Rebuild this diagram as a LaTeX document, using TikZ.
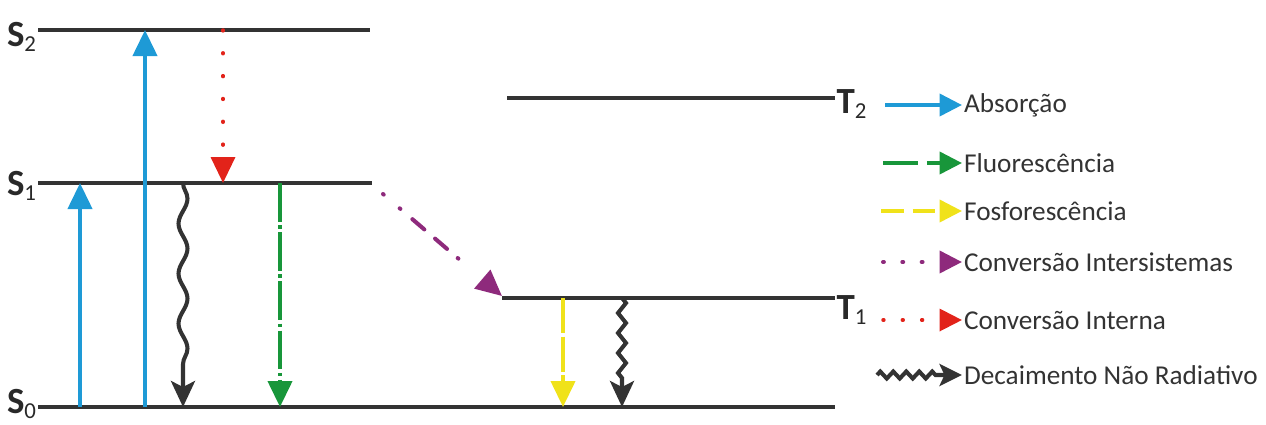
\documentclass[tikz,border=0pt]{standalone}
\usepackage{fontspec}
\setmainfont{Carlito}
\usetikzlibrary{arrows.meta, positioning, decorations.pathmorphing}

\definecolor{absblue}{HTML}{1E9AD6}
\definecolor{flugreen}{HTML}{18963A}
\definecolor{fosyellow}{HTML}{F0E21A}
\definecolor{iscpurple}{HTML}{8E2A7C}
\definecolor{icred}{HTML}{E2231A}
\definecolor{nrblack}{HTML}{333333}

\newcommand{\lvsub}[1]{\textsubscript{\mdseries\fontsize{13}{14}\selectfont #1}}

\begin{document}
\begin{tikzpicture}[x=0.02cm, y=-0.02cm,
    every node/.style={inner sep=1pt},
    level/.style={line width=2.1pt, nrblack},
    statelbl/.style={font=\fontsize{21}{23}\selectfont\bfseries, text=nrblack!80!black},
    legtext/.style={font=\fontsize{15.5}{17}\selectfont, text=nrblack, anchor=west},
    tip/.style={-{Triangle[length=0.52cm,width=0.48cm]}},
    ltip/.style={-{Triangle[length=0.45cm,width=0.44cm]}},
    absorb/.style={line width=2.3pt, absblue},
    fluor/.style={line width=2.3pt, flugreen, dash pattern=on 22pt off 2pt on 2pt off 2pt},
    phosph/.style={line width=2.3pt, fosyellow, dash pattern=on 20pt off 2pt},
    isc/.style={line width=2.3pt, iscpurple, line cap=round},
    intconv/.style={line width=2pt, icred, line cap=round, dash pattern=on 0.5pt off 12.5pt},
    nonrad/.style={line width=2.3pt, nrblack, decorate}]

  \useasboundingbox (0,0) rectangle (1266,424);

  % energy levels
  \coordinate (S2a) at (38,30);  \coordinate (S2b) at (370,30);
  \coordinate (S1a) at (38,183); \coordinate (S1b) at (372,183);
  \coordinate (S0a) at (38,407); \coordinate (S0b) at (835,407);
  \coordinate (T2a) at (507,98); \coordinate (T2b) at (835,98);
  \coordinate (T1a) at (502,298); \coordinate (T1b) at (835,298);
  \foreach \lv in {S2,S1,S0,T2,T1}
    \draw[level] (\lv a) -- (\lv b);

  \node[statelbl] (s2) at (22,37) {S\lvsub{2}};
  \node[statelbl] (s1) at (22,186) {S\lvsub{1}};
  \node[statelbl] (s0) at (22,404) {S\lvsub{0}};
  \node[statelbl] (t2) at (852,104) {T\lvsub{2}};
  \node[statelbl] (t1) at (852,310) {T\lvsub{1}};

  % transitions
  \draw[absorb, tip] (80,0 |- S0a) -- (80,0 |- S1a);
  \draw[absorb, tip] (145,0 |- S0a) -- (145,0 |- S2a);
  \draw[intconv, tip] (223,0 |- S2a) -- (223,0 |- S1a);
  \draw[nonrad, decoration={snake, segment length=1cm, amplitude=0.09cm, post length=0.5cm}, -{Stealth[length=0.52cm,width=0.48cm,inset=0.12cm]}]
    (183,0 |- S1a) -- (183,0 |- S0a);
  \draw[fluor, tip] (280,0 |- S1a) -- (280,0 |- S0a);
  \coordinate (iscstart) at (383,194);
  \coordinate (iscend) at (502,296);
  \draw[isc, tip, dash pattern=on 0.5pt off 12pt on 0.5pt off 9pt on 9pt off 8pt on 9pt off 8pt on 0.5pt off 20pt]
    (iscstart) -- (iscend);
  \draw[phosph, tip] (563,0 |- T1a) -- (563,0 |- S0a);
  \draw[nonrad, decoration={zigzag, segment length=0.4cm, amplitude=0.08cm, post length=0.5cm}, -{Stealth[length=0.52cm,width=0.48cm,inset=0.12cm]}]
    (622,0 |- T1a) -- (622,0 |- S0a);

  % legend
  \node[legtext] (labs) at (962,105) {Absorção};
  \node[legtext] (lflu) at (962,163) {Fluorescência};
  \node[legtext] (lfos) at (962,211) {Fosforescência};
  \node[legtext] (lisc) at (962,262) {Conversão Intersistemas};
  \node[legtext] (lic)  at (962,320) {Conversão Interna};
  \node[legtext] (lnr)  at (962,375) {Decaimento Não Radiativo};

  \coordinate (kabs) at (885,105);
  \coordinate (kflu) at (883,163);
  \coordinate (kfos) at (881,211);
  \coordinate (kisc) at (883,262);
  \coordinate (kic)  at (883,320);
  \coordinate (knr)  at (877,375);
  \draw[absorb, ltip] (kabs) -- (labs);
  \draw[line width=2.3pt, flugreen, ltip, dash pattern=on 20pt off 5pt] (kflu) -- (lflu);
  \draw[line width=2.3pt, fosyellow, ltip, dash pattern=on 13pt off 5pt] (kfos) -- (lfos);
  \draw[isc, ltip, dash pattern=on 0.5pt off 10.5pt] (kisc) -- (lisc);
  \draw[intconv, ltip, dash pattern=on 0.5pt off 10.5pt] (kic) -- (lic);
  \draw[nonrad, decoration={zigzag, segment length=0.26cm, amplitude=0.07cm, post length=0.45cm}, -{Stealth[length=0.45cm,width=0.44cm,inset=0.1cm]}]
    (knr) -- (lnr);
\end{tikzpicture}
\end{document}
